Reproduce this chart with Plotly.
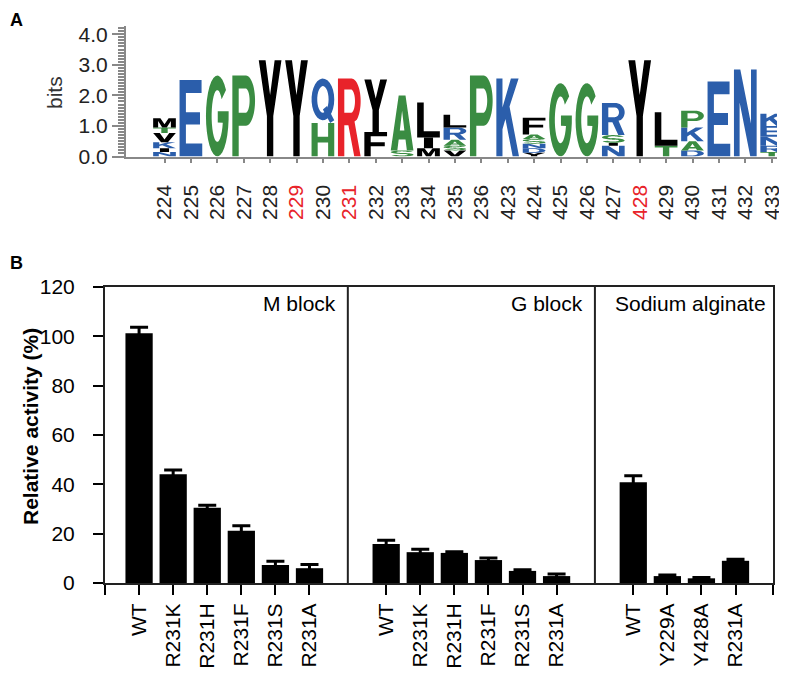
import numpy as np
import plotly.graph_objects as go

W, H = 787, 675
PAD = 8  # the page body keeps an 8 px margin around the figure

# ---------------- Panel A: sequence logo data ----------------
logo_sites = [224, 225, 226, 227, 228, 229, 230, 231, 232, 233, 234, 235, 236,
              423, 424, 425, 426, 427, 428, 429, 430, 431, 432, 433]
red_sites = [229, 231, 428]
# letters of each column, bottom to top, with height in bits
logo_stacks = [
    [("N", 0.15), ("I", 0.12), ("K", 0.2), ("V", 0.3), ("T", 0.18), ("M", 0.3)],
    [("E", 2.5)],
    [("G", 2.65)],
    [("P", 2.65)],
    [("Y", 3.15)],
    [("Y", 3.15)],
    [("H", 1.1), ("Q", 1.45)],
    [("R", 2.55)],
    [("F", 0.8), ("Y", 1.72)],
    [("S", 0.2), ("A", 1.8)],
    [("M", 0.27), ("I", 0.35), ("L", 1.15)],
    [("V", 0.2), ("S", 0.15), ("A", 0.2), ("R", 0.4), ("L", 0.42)],
    [("P", 2.65)],
    [("K", 2.55)],
    [("Y", 0.12), ("D", 0.15), ("N", 0.15), ("S", 0.15), ("A", 0.15), ("F", 0.55)],
    [("G", 2.4)],
    [("G", 2.4)],
    [("N", 0.35), ("I", 0.1), ("S", 0.25), ("R", 1.05)],
    [("Y", 3.15)],
    [("T", 0.35), ("L", 1.1)],
    [("D", 0.2), ("A", 0.3), ("K", 0.45), ("P", 0.55)],
    [("E", 2.45)],
    [("N", 2.85)],
    [("T", 0.15), ("R", 0.2), ("N", 0.3), ("E", 0.35), ("K", 0.4)],
]

# ---------------- Panel B: relative activity data ----------------
group_names = ["M block", "G block", "Sodium alginate"]
group_labels = [
    ["WT", "R231K", "R231H", "R231F", "R231S", "R231A"],
    ["WT", "R231K", "R231H", "R231F", "R231S", "R231A"],
    ["WT", "Y229A", "Y428A", "R231A"],
]
group_activity = [
    [101.2, 44.1, 30.5, 21.2, 7.3, 6.0],
    [15.8, 12.5, 12.2, 9.3, 4.9, 2.8],
    [40.8, 2.8, 1.9, 9.0],
]
group_error = [
    [2.5, 1.7, 1.0, 2.0, 1.5, 1.5],
    [1.5, 1.2, 0.5, 0.8, 0.5, 0.8],
    [2.7, 0.4, 0.3, 0.6],
]

FONT = "Liberation Sans, Arial, sans-serif"
BLUE = "#2b5eab"
GREEN = "#3a8c42"
RED = "#e8232a"
BLACK = "#000000"
LETTER_COLORS = {
    "E": BLUE, "Q": BLUE, "K": BLUE, "N": BLUE, "D": BLUE, "R": BLUE,
    "G": GREEN, "P": GREEN, "H": GREEN, "A": GREEN, "S": GREEN, "T": GREEN,
    "Y": BLACK, "F": BLACK, "L": BLACK, "M": BLACK, "V": BLACK, "I": BLACK,
}


# ---------------- letter outlines in a unit box ----------------
def arc(cx, cy, rx, ry, a0, a1, n=28):
    t = np.radians(np.linspace(a0, a1, n))
    return list(zip(cx + rx * np.cos(t), cy + ry * np.sin(t)))


def ring_seg(cx, cy, ro, ri, a0, a1):
    return arc(cx, cy, ro[0], ro[1], a0, a1) + arc(cx, cy, ri[0], ri[1], a1, a0)


GLYPHS = {
    "E": [[[(0, 0), (1, 0), (1, .17), (.28, .17), (.28, .42), (.9, .42), (.9, .58),
            (.28, .58), (.28, .83), (.97, .83), (.97, 1), (0, 1)]]],
    "F": [[[(0, 0), (.28, 0), (.28, .42), (.9, .42), (.9, .58), (.28, .58),
            (.28, .83), (1, .83), (1, 1), (0, 1)]]],
    "L": [[[(0, 0), (1, 0), (1, .18), (.29, .18), (.29, 1), (0, 1)]]],
    "T": [[[(.36, 0), (.64, 0), (.64, .83), (1, .83), (1, 1), (0, 1), (0, .83), (.36, .83)]]],
    "I": [[[(.3, 0), (.7, 0), (.7, 1), (.3, 1)]]],
    "H": [[[(0, 0), (.27, 0), (.27, .42), (.73, .42), (.73, 0), (1, 0), (1, 1), (.73, 1),
            (.73, .59), (.27, .59), (.27, 1), (0, 1)]]],
    "Y": [[[(.36, 0), (.64, 0), (.64, .42), (1, 1), (.7, 1), (.5, .64), (.3, 1), (0, 1), (.36, .42)]]],
    "V": [[[(.35, 0), (.65, 0), (1, 1), (.71, 1), (.5, .3), (.29, 1), (0, 1)]]],
    "A": [[[(0, 0), (.29, 0), (.35, .2), (.65, .2), (.71, 0), (1, 0), (.65, 1), (.35, 1)],
           [(.4, .36), (.6, .36), (.5, .72)]]],
    "M": [[[(0, 0), (.22, 0), (.22, .7), (.4, 0), (.6, 0), (.78, .7), (.78, 0), (1, 0),
            (1, 1), (.68, 1), (.5, .36), (.32, 1), (0, 1)]]],
    "N": [[[(0, 0), (.25, 0), (.25, .62), (.72, 0), (1, 0), (1, 1), (.75, 1), (.75, .38),
            (.28, 1), (0, 1)]]],
    "K": [[[(0, 0), (.27, 0), (.27, .35), (.4, .48), (.72, 0), (1, 0), (.58, .64), (.98, 1),
            (.64, 1), (.27, .63), (.27, 1), (0, 1)]]],
    "P": [[[(0, 0), (.28, 0), (.28, .38), (.6, .38)] + arc(.6, .69, .4, .31, -90, 90) + [(0, 1)],
           [(.28, .54), (.58, .54)] + arc(.58, .69, .18, .15, -90, 90) + [(.28, .84)]]],
    "R": [[[(0, 0), (.28, 0), (.28, .4), (.46, .4), (.72, 0), (1, 0), (.73, .45)]
           + arc(.6, .71, .4, .29, -55, 90) + [(0, 1)],
           [(.28, .56), (.57, .56)] + arc(.57, .71, .18, .15, -90, 90) + [(.28, .86)]]],
    "D": [[[(0, 0), (.5, 0)] + arc(.5, .5, .5, .5, -90, 90) + [(0, 1)],
           [(.27, .17), (.47, .17)] + arc(.47, .5, .26, .33, -90, 90) + [(.27, .83)]]],
    "G": [[arc(.5, .5, .5, .5, 40, 355) + [(1, .56), (.52, .56), (.52, .42)]
           + arc(.5, .5, .25, .32, 345, 40)]],
    "Q": [[arc(.5, .53, .5, .47, 0, 360), arc(.5, .53, .25, .3, 0, 360)],
          [[(.5, .3), (.68, .38), (1, .06), (.82, 0)]]],
    "S": [[ring_seg(.5, .71, (.5, .29), (.25, .13), 20, 280)],
          [ring_seg(.5, .29, (.5, .29), (.25, .13), 100, -160)]],
}


def glyph_paths(letter, x0, x1, y0, y1):
    out = []
    for part in GLYPHS[letter]:
        segs = []
        for contour in part:
            pts = [f"{x0 + u * (x1 - x0):.4f},{y0 + v * (y1 - y0):.4f}" for u, v in contour]
            segs.append("M" + "L".join(pts) + "Z")
        out.append(" ".join(segs))
    return out


FW, FH = W - PAD, H - PAD


def px_x(p):
    return (p - PAD) / FW


def px_y(p):
    return 1 - (p - PAD) / FH


shapes = []
for i, (site, stack) in enumerate(zip(logo_sites, logo_stacks)):
    base = 0.0
    for letter, h in stack:
        color = RED if (site == 231 and letter == "R") else LETTER_COLORS[letter]
        for path in glyph_paths(letter, i - 0.43, i + 0.43, base, base + h):
            shapes.append(dict(type="path", path=path, xref="x", yref="y",
                               fillcolor=color, line=dict(width=0), fillrule="evenodd"))
        base += h

# bar positions: unit step inside a group, wider gap between groups
bar_x, bar_text, bar_y, bar_err, dividers = [], [], [], [], []
pos = 1.0
for gi, labels in enumerate(group_labels):
    if gi > 0:
        pos += 1.25
        dividers.append((bar_x[-1] + pos) / 2)
    for j, lab in enumerate(labels):
        bar_x.append(pos)
        bar_text.append(lab)
        bar_y.append(group_activity[gi][j])
        bar_err.append(group_error[gi][j])
        pos += 1
x2_max = 19.6

for d in dividers:
    shapes.append(dict(type="line", xref="x2", yref="y2", x0=d, x1=d, y0=0, y1=120,
                       line=dict(color="#222", width=2)))

fig = go.Figure()
fig.add_trace(go.Scatter(x=list(range(len(logo_sites))), y=[0] * len(logo_sites),
                         mode="none", xaxis="x", yaxis="y", hoverinfo="skip"))
fig.add_trace(go.Bar(x=bar_x, y=bar_y, width=0.8, xaxis="x2", yaxis="y2",
                     marker=dict(color="black", line=dict(width=0)),
                     error_y=dict(type="data", array=bar_err, color="black",
                                  thickness=3, width=9)))

tick_a = [f'<span style="color:{RED}">{s}</span>' if s in red_sites else str(s)
          for s in logo_sites]
lo_a = (126 - 164.5) / 26.4
hi_a = (777 - 164.5) / 26.4

ax_font = dict(family=FONT, size=21, color="#222")
fig.update_layout(
    template="none",
    width=FW, height=FH, margin=dict(l=0, r=0, t=0, b=0, autoexpand=False),
    paper_bgcolor="white", plot_bgcolor="white", showlegend=False,
    font=dict(family=FONT, size=21, color="black"),
    shapes=shapes,
    xaxis=dict(domain=[px_x(126), px_x(777)], range=[lo_a, hi_a], anchor="y",
               automargin=False,
               tickvals=list(range(len(logo_sites))), ticktext=tick_a, tickangle=-90,
               ticks="outside", ticklen=4, tickwidth=2, tickcolor="#888",
               showline=True, linecolor="#888", linewidth=2, showgrid=False,
               zeroline=False, tickfont=ax_font, ticklabelstandoff=14, fixedrange=True),
    xaxis3=dict(overlaying="x", anchor="y", range=[lo_a, hi_a], automargin=False,
                tickvals=list(range(3, len(logo_sites), 5)), ticks="outside", ticklen=8,
                tickwidth=2, tickcolor="#888", showticklabels=False, showline=False,
                showgrid=False, zeroline=False),
    yaxis=dict(domain=[px_y(156.5), px_y(26)], range=[0, 4.27], anchor="x",
               automargin=False,
               tickvals=[0, 1, 2, 3, 4], tickformat=".1f", ticks="outside", ticklen=12,
               tickwidth=2, tickcolor="#888", showline=True, linecolor="#888",
               linewidth=2, showgrid=False, zeroline=False, tickfont=ax_font,
               ticklabelstandoff=0,
               minor=dict(dtick=0.1, ticks="outside", ticklen=6, tickcolor="#888",
                          tickwidth=1.5, showgrid=False)),
    xaxis2=dict(domain=[px_x(105), px_x(773)], range=[0, x2_max], anchor="y2",
                automargin=False,
                tickvals=[0] + bar_x + [x2_max], ticktext=[""] + bar_text + [""],
                tickangle=-90, ticks="outside", ticklen=10, tickwidth=2,
                tickcolor="black", showline=True, mirror=True, linecolor="#222",
                linewidth=2, showgrid=False, zeroline=False, ticklabelstandoff=0,
                tickfont=dict(family=FONT, size=21, color="black")),
    yaxis2=dict(domain=[px_y(583), px_y(287)], range=[0, 120], anchor="x2",
                automargin=False,
                tickvals=[0, 20, 40, 60, 80, 100, 120], ticks="outside", ticklen=10,
                tickwidth=2, tickcolor="black", showline=True, mirror=True,
                linecolor="#222", linewidth=2, showgrid=False, zeroline=False,
                ticklabelstandoff=14, tickfont=dict(family=FONT, size=21, color="black")),
)

fig.add_annotation(text="<b>A</b>", x=0, y=1, xref="paper", yref="paper",
                   xanchor="left", yanchor="top", showarrow=False,
                   font=dict(family=FONT, size=18, color="black"))
fig.add_annotation(text="<b>B</b>", x=0, y=px_y(263), xref="paper", yref="paper",
                   xanchor="left", yanchor="middle", showarrow=False,
                   font=dict(family=FONT, size=18, color="black"))
fig.add_annotation(text="bits", x=px_x(55), y=px_y(93), xref="paper", yref="paper",
                   xanchor="center", yanchor="middle", textangle=-90, showarrow=False,
                   font=dict(family=FONT, size=21, color="#333"))
fig.add_annotation(text="<b>Relative activity (%)</b>", x=px_x(30), y=px_y(427),
                   xref="paper", yref="paper", xanchor="center", yanchor="middle",
                   textangle=-90, showarrow=False,
                   font=dict(family=FONT, size=21, color="black"))
group_right = dividers + [x2_max]
shifts = [-10, -10, -5]
for name, xr, sh in zip(group_names, group_right, shifts):
    fig.add_annotation(text=name, x=xr, y=px_y(303), xref="x2", yref="paper",
                       xanchor="right", yanchor="middle", xshift=sh, showarrow=False,
                       font=dict(family=FONT, size=21, color="black"))

fig.write_html("out.html")
